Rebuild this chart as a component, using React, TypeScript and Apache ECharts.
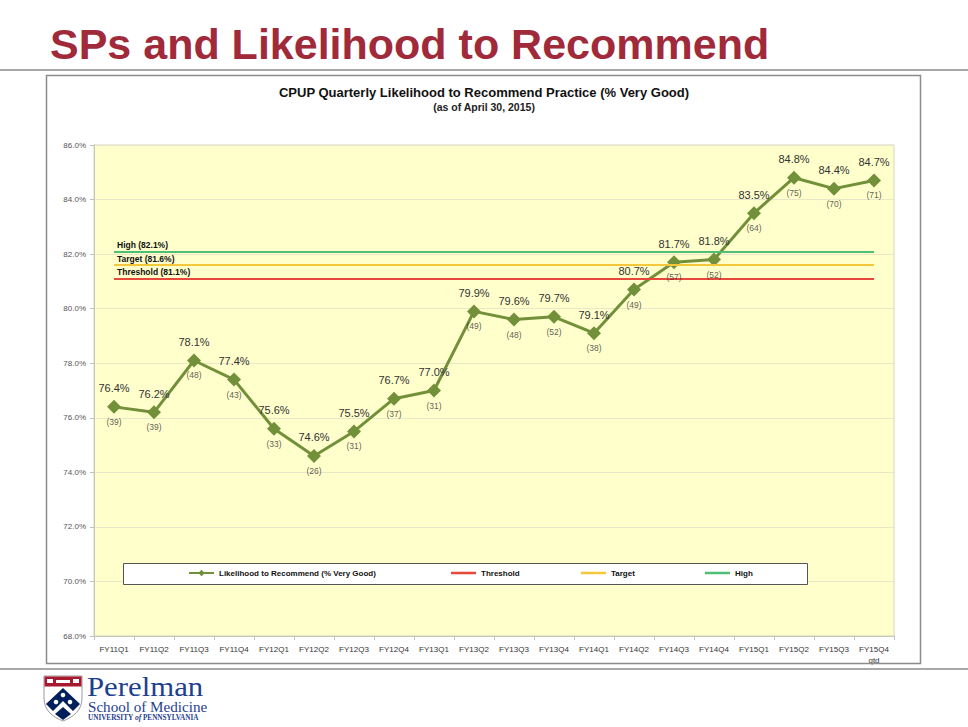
import React, { useEffect, useRef } from "react";
import * as echarts from "echarts";

const categories = [
  "FY11Q1", "FY11Q2", "FY11Q3", "FY11Q4", "FY12Q1", "FY12Q2", "FY12Q3", "FY12Q4",
  "FY13Q1", "FY13Q2", "FY13Q3", "FY13Q4", "FY14Q1", "FY14Q2", "FY14Q3", "FY14Q4",
  "FY15Q1", "FY15Q2", "FY15Q3", "FY15Q4\nqtd",
];
const likelihood = [
  76.4, 76.2, 78.1, 77.4, 75.6, 74.6, 75.5, 76.7, 77.0, 79.9,
  79.6, 79.7, 79.1, 80.7, 81.7, 81.8, 83.5, 84.8, 84.4, 84.7,
];
const counts = [
  39, 39, 48, 43, 33, 26, 31, 37, 31, 49,
  48, 52, 38, 49, 57, 52, 64, 75, 70, 71,
];
const thresholdValue = 81.1;
const targetValue = 81.6;
const highValue = 82.1;

const MAIN = "Likelihood to Recommend (% Very Good)";
const LABEL_FONT = "'Liberation Sans', Arial, sans-serif";
const SERIF = "'Liberation Serif', 'Times New Roman', serif";

const shieldPath = "M0 0 H38 V22 C38 35 29 41 19 45 C9 41 0 35 0 22 Z";

export default function App() {
  const ref = useRef<HTMLDivElement>(null);
  useEffect(() => {
    document.body.style.margin = "0";
    if (!ref.current) return;
    echarts.graphic.registerShape("shield", echarts.graphic.extendPath(shieldPath, {}));
    const chart = echarts.init(ref.current, null, { renderer: "svg" });

    const refLine = (name: string, value: number, color: string) => ({
      name,
      type: "line",
      data: [],
      symbol: "none",
      lineStyle: { color, width: 2 },
      itemStyle: { color },
      markLine: {
        silent: true,
        symbol: ["none", "none"],
        animation: false,
        lineStyle: { color, width: 2, type: "solid" },
        label: {
          show: true,
          position: "insideStartTop",
          distance: [3, 2],
          formatter: `${name} (${value.toFixed(1)}%)`,
          fontFamily: LABEL_FONT,
          fontSize: 8.5,
          fontWeight: "bold",
          color: "#111",
        },
        data: [[
          { coord: [categories[0], value] },
          { coord: [categories[categories.length - 1], value] },
        ]],
      },
    });

    const legendBase = {
      padding: 0,
      itemWidth: 25,
      itemHeight: 8,
      top: 569,
      textStyle: { fontFamily: LABEL_FONT, fontSize: 8, fontWeight: "bold", color: "#111" },
    };
    const lineLegend = { ...legendBase, itemHeight: 2.5 };

    chart.setOption({
      animation: false,
      backgroundColor: "#ffffff",
      title: [
        {
          text: "SPs and Likelihood to Recommend",
          left: 45,
          top: 17,
          textStyle: { fontFamily: LABEL_FONT, fontSize: 43, fontWeight: "bold", color: "#a02a3a" },
        },
        {
          text: "CPUP Quarterly Likelihood to Recommend Practice (% Very Good)",
          subtext: "(as of April 30, 2015)",
          left: "center",
          top: 81,
          itemGap: 2,
          textStyle: { fontFamily: LABEL_FONT, fontSize: 13, fontWeight: "bold", color: "#111" },
          subtextStyle: { fontFamily: LABEL_FONT, fontSize: 10.5, fontWeight: "bold", color: "#222" },
        },
      ],
      graphic: [
        { type: "line", shape: { x1: 0, y1: 70, x2: 968, y2: 70 }, style: { stroke: "#a8a8a8", lineWidth: 2 }, z: 1 },
        { type: "line", shape: { x1: 0, y1: 669, x2: 968, y2: 669 }, style: { stroke: "#a8a8a8", lineWidth: 2 }, z: 1 },
        { type: "rect", shape: { x: 46.5, y: 75.5, width: 874, height: 588 }, style: { fill: "none", stroke: "#8c8c8c", lineWidth: 1.5 }, z: 1 },
        { type: "rect", shape: { x: 123.5, y: 563.5, width: 684, height: 21 }, style: { fill: "#ffffff", stroke: "#555", lineWidth: 1 }, z: 3 },
        // logo
        { type: "shield", x: 44, y: 676, style: { fill: "#ffffff", stroke: "#9a9a9a", lineWidth: 1 }, z: 3 },
        { type: "rect", shape: { x: 44.5, y: 676.5, width: 37, height: 10 }, style: { fill: "#a6192e" }, z: 4 },
        { type: "rect", shape: { x: 47, y: 679, width: 6, height: 4 }, style: { fill: "#ffffff" }, z: 5 },
        { type: "rect", shape: { x: 73, y: 679, width: 6, height: 4 }, style: { fill: "#ffffff" }, z: 5 },
        { type: "rect", shape: { x: 56, y: 680, width: 14, height: 3 }, style: { fill: "#ffffff" }, z: 5 },
        { type: "polygon", shape: { points: [[63, 688], [80, 704], [73, 711], [63, 701], [53, 711], [46, 704]] }, style: { fill: "#011f5b" }, z: 4 },
        { type: "polygon", shape: { points: [[63, 707], [71, 714], [63, 720], [55, 714]] }, style: { fill: "#011f5b" }, z: 4 },
        { type: "circle", shape: { cx: 56, cy: 702, r: 2.3 }, style: { fill: "#ffffff" }, z: 5 },
        { type: "circle", shape: { cx: 63, cy: 695, r: 2.3 }, style: { fill: "#ffffff" }, z: 5 },
        { type: "circle", shape: { cx: 70, cy: 702, r: 2.3 }, style: { fill: "#ffffff" }, z: 5 },
        {
          type: "text", x: 87, y: 672, scaleX: 1.1,
          style: { text: "Perelman", fontFamily: SERIF, fontSize: 28, lineHeight: 28, fill: "#1f3f8f", textVerticalAlign: "top" },
          z: 4,
        },
        {
          type: "text", x: 88, y: 700, scaleX: 1.08,
          style: { text: "School of Medicine", fontFamily: SERIF, fontSize: 14, lineHeight: 14, fill: "#1f3f8f", textVerticalAlign: "top" },
          z: 4,
        },
        {
          type: "text", x: 88, y: 714,
          style: {
            text: "{a|UNIVERSITY }{b|of}{a| PENNSYLVANIA}",
            textVerticalAlign: "top",
            rich: {
              a: { fontFamily: SERIF, fontSize: 7.2, lineHeight: 7, fontWeight: "bold", fill: "#1f3f8f" },
              b: { fontFamily: SERIF, fontSize: 7.5, lineHeight: 7, fontWeight: "bold", fontStyle: "italic", fill: "#1f3f8f" },
            },
          },
          z: 4,
        },
      ],
      legend: [
        { ...legendBase, left: 188, data: [MAIN] },
        { ...lineLegend, left: 451, data: [{ name: "Threshold", icon: "rect" }] },
        { ...lineLegend, left: 581, data: [{ name: "Target", icon: "rect" }] },
        { ...lineLegend, left: 705, data: [{ name: "High", icon: "rect" }] },
      ],
      grid: {
        left: 94,
        top: 145,
        width: 800,
        height: 491,
        show: true,
        backgroundColor: "#ffffcc",
        borderColor: "#d4d4bc",
        borderWidth: 1,
      },
      xAxis: {
        type: "category",
        data: categories,
        boundaryGap: true,
        axisLine: { show: true, lineStyle: { color: "#c8c8b8" } },
        axisTick: { show: true, length: 4, lineStyle: { color: "#c0c0c0" } },
        axisLabel: {
          interval: 0,
          fontFamily: LABEL_FONT,
          fontSize: 8,
          color: "#333",
          margin: 8,
          lineHeight: 11,
        },
      },
      yAxis: {
        type: "value",
        min: 68,
        max: 86,
        interval: 2,
        axisLine: { show: true, lineStyle: { color: "#c8c8b8" } },
        axisTick: { show: true, length: 4, lineStyle: { color: "#c0c0c0" } },
        splitLine: { show: true, lineStyle: { color: "#e8e8c8", width: 1 } },
        axisLabel: {
          fontFamily: LABEL_FONT,
          fontSize: 8,
          color: "#555",
          margin: 8,
          formatter: (v: number) => v.toFixed(1) + "%",
        },
      },
      series: [
        {
          name: MAIN,
          type: "line",
          data: likelihood,
          z: 4,
          symbol: "diamond",
          symbolSize: 14,
          lineStyle: { color: "#72903a", width: 3 },
          itemStyle: { color: "#72903a" },
          label: {
            show: true,
            position: "top",
            distance: 6,
            fontFamily: LABEL_FONT,
            fontSize: 11,
            color: "#333",
            formatter: (p: any) => p.value.toFixed(1) + "%",
          },
        },
        {
          name: "counts",
          type: "scatter",
          data: likelihood,
          symbolSize: 1,
          silent: true,
          itemStyle: { color: "rgba(0,0,0,0)" },
          label: {
            show: true,
            position: "bottom",
            distance: 10,
            fontFamily: LABEL_FONT,
            fontSize: 8.5,
            color: "#333",
            formatter: (p: any) => `(${counts[p.dataIndex]})`,
          },
          z: 5,
        },
        refLine("Threshold", thresholdValue, "#e8473c"),
        refLine("Target", targetValue, "#f4c83a"),
        refLine("High", highValue, "#4fbf76"),
      ],
    });
    return () => chart.dispose();
  }, []);
  return <div ref={ref} style={{ width: 968, height: 727 }} />;
}
